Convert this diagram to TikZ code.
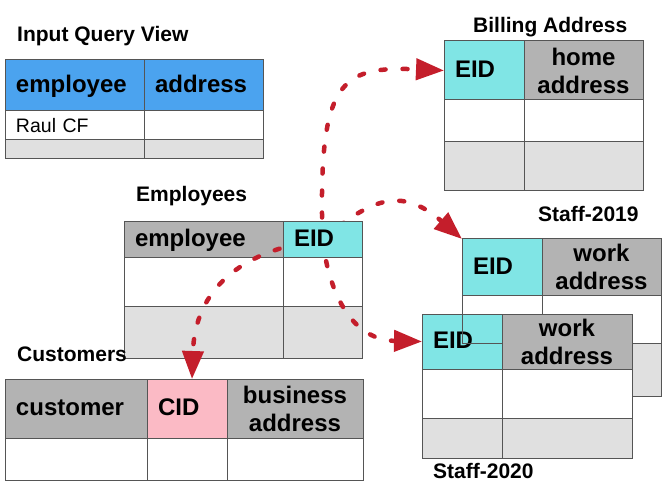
\documentclass[tikz,border=0pt]{standalone}
\usepackage{fontspec}
\setmainfont{Liberation Sans}
\usetikzlibrary{arrows.meta}
\definecolor{hblue}{HTML}{4BA3EF}
\definecolor{hcyan}{HTML}{80E5E5}
\definecolor{hgray}{HTML}{B3B3B3}
\definecolor{lgray}{HTML}{E0E0E0}
\definecolor{hpink}{HTML}{FBBAC5}
\definecolor{arrred}{HTML}{C41E2B}
\definecolor{bordergray}{HTML}{555555}
\begin{document}
\begin{tikzpicture}[x=1pt,y=-1pt,
  cellbox/.style={draw=bordergray,line width=1pt,anchor=north west,inner sep=0pt,outer sep=0pt},
  hdrfont/.style={font=\bfseries\fontsize{24}{28}\selectfont},
  oneline/.style={text height=17pt,text depth=3pt},
  lefttext/.style={inner xsep=11pt,align=left,text width=#1},
  centertext/.style={align=center,text width=#1},
  title/.style={anchor=base west,inner sep=0pt,font=\bfseries\fontsize{21}{25}\selectfont},
  redarrow/.style={draw=arrred,line width=4.5pt,line cap=round,dash pattern=on 5pt off 17pt,
    -{Triangle[length=28pt,width=21pt]}}
]
\useasboundingbox (0,0) rectangle (664,497);

% Input Query View
\node[cellbox,fill=hblue,hdrfont,oneline,minimum width=139pt,minimum height=51pt,lefttext=117pt] (iqh1) at (5,60) {employee};
\node[cellbox,fill=hblue,hdrfont,oneline,minimum width=119pt,minimum height=51pt,lefttext=97pt] (iqh2) at (144,60) {address};
\node[cellbox,fill=white,minimum width=139pt,minimum height=29pt,lefttext=117pt,font=\fontsize{19.5}{22}\selectfont] (iqr1a) at (5,111) {Raul CF};
\node[cellbox,fill=white,minimum width=119pt,minimum height=29pt] (iqr1b) at (144,111) {};
\node[cellbox,fill=lgray,minimum width=139pt,minimum height=19pt] (iqr2a) at (5,140) {};
\node[cellbox,fill=lgray,minimum width=119pt,minimum height=19pt] (iqr2b) at (144,140) {};

% Billing Address
\node[cellbox,fill=hcyan,hdrfont,oneline,minimum width=80pt,minimum height=59pt,lefttext=58pt] (bah1) at (444,41) {EID};
\node[cellbox,fill=hgray,hdrfont,minimum width=119pt,minimum height=59pt,centertext=119pt] (bah2) at (524,41) {home\\address};
\node[cellbox,fill=white,minimum width=80pt,minimum height=42pt] (bar1a) at (444,100) {};
\node[cellbox,fill=white,minimum width=119pt,minimum height=42pt] (bar1b) at (524,100) {};
\node[cellbox,fill=lgray,minimum width=80pt,minimum height=49pt] (bar2a) at (444,142) {};
\node[cellbox,fill=lgray,minimum width=119pt,minimum height=49pt] (bar2b) at (524,142) {};

% Staff-2019
\node[cellbox,fill=hcyan,hdrfont,oneline,minimum width=80pt,minimum height=56pt,lefttext=58pt] (s19h1) at (462,239) {EID};
\node[cellbox,fill=hgray,hdrfont,minimum width=119pt,minimum height=56pt,centertext=119pt] (s19h2) at (542,239) {work\\address};
\node[cellbox,fill=white,minimum width=80pt,minimum height=48pt] (s19r1a) at (462,295) {};
\node[cellbox,fill=white,minimum width=119pt,minimum height=48pt] (s19r1b) at (542,295) {};
\node[cellbox,fill=lgray,minimum width=80pt,minimum height=53pt] (s19r2a) at (462,343) {};
\node[cellbox,fill=lgray,minimum width=119pt,minimum height=53pt] (s19r2b) at (542,343) {};

% Staff-2020
\node[cellbox,fill=hcyan,hdrfont,oneline,minimum width=80pt,minimum height=55pt,lefttext=58pt] (s20h1) at (422,314) {EID};
\node[cellbox,fill=hgray,hdrfont,minimum width=130pt,minimum height=55pt,centertext=130pt] (s20h2) at (502,314) {work\\address};
\node[cellbox,fill=white,minimum width=80pt,minimum height=49pt] (s20r1a) at (422,369) {};
\node[cellbox,fill=white,minimum width=130pt,minimum height=49pt] (s20r1b) at (502,369) {};
\node[cellbox,fill=lgray,minimum width=80pt,minimum height=40pt] (s20r2a) at (422,418) {};
\node[cellbox,fill=lgray,minimum width=130pt,minimum height=40pt] (s20r2b) at (502,418) {};
\draw[bordergray,line width=1pt] (s20h1.north -| s19r1a.west) -- (s19r1a.south west) -- (s19r1a.south -| s20h1.east);

% Customers
\node[cellbox,fill=hgray,hdrfont,oneline,minimum width=142pt,minimum height=59pt,lefttext=120pt] (cuh1) at (5,379) {customer};
\node[cellbox,fill=hpink,hdrfont,oneline,minimum width=80pt,minimum height=59pt,lefttext=58pt] (cuh2) at (147,379) {CID};
\node[cellbox,fill=hgray,hdrfont,minimum width=136pt,minimum height=59pt,centertext=136pt] (cuh3) at (227,379) {business\\address};
\node[cellbox,fill=white,minimum width=142pt,minimum height=42pt] (cur1a) at (5,438) {};
\node[cellbox,fill=white,minimum width=80pt,minimum height=42pt] (cur1b) at (147,438) {};
\node[cellbox,fill=white,minimum width=136pt,minimum height=42pt] (cur1c) at (227,438) {};

% Employees
\node[cellbox,fill=hgray,hdrfont,oneline,minimum width=159pt,minimum height=35pt,lefttext=137pt] (emh1) at (124,222) {employee};
\node[cellbox,fill=white,minimum width=159pt,minimum height=49pt] (emr1a) at (124,257) {};
\node[cellbox,fill=white,minimum width=79pt,minimum height=49pt] (emr1b) at (283,257) {};
\node[cellbox,fill=lgray,minimum width=159pt,minimum height=52pt] (emr2a) at (124,306) {};
\node[cellbox,fill=lgray,minimum width=79pt,minimum height=52pt] (emr2b) at (283,306) {};

% arrows
\coordinate (eid) at (322.5,239.5);
\draw[redarrow] (eid) .. controls (318,80) and (340,66) .. (bah1.west);
\draw[redarrow] (eid) .. controls (370,200) and (400,185) .. (s19h1.north west);
\draw[redarrow] (eid) .. controls (330,300) and (355,340) .. (s20h1.west);
\draw[redarrow] (eid) .. controls (240,250) and (195,290) .. ([xshift=5pt]cuh2.north);

\node[cellbox,fill=hcyan,hdrfont,oneline,minimum width=79pt,minimum height=35pt,lefttext=57pt] (emh2) at (283,222) {EID};

% titles
\node[title] (tiqv) at (17,42) {Input Query View};
\node[title] (temp) at (136,202) {Employees};
\node[title] (tbill) at (473,33) {Billing Address};
\node[title] (ts19) at (538,222) {Staff-2019};
\node[title] (ts20) at (433,478) {Staff-2020};
\node[title] (tcust) at (17,361) {Customers};
\end{tikzpicture}
\end{document}
